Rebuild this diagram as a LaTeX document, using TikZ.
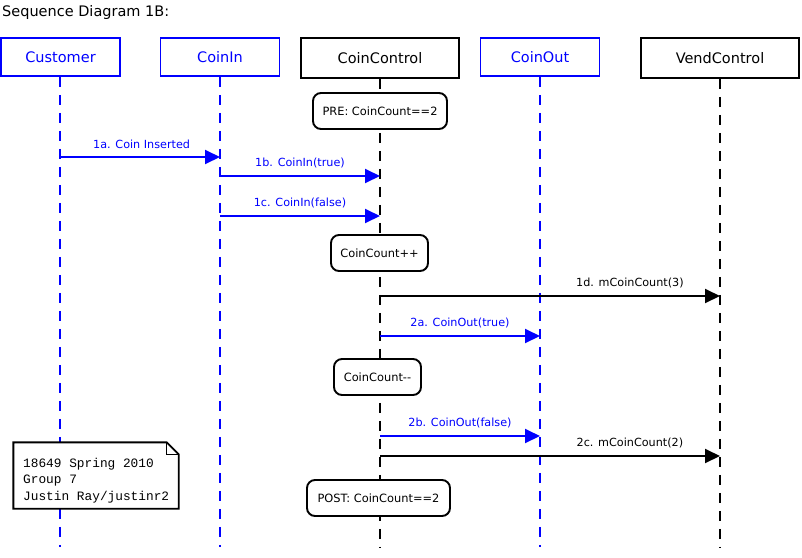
\documentclass[tikz,border=0pt]{standalone}
\usepackage{fontspec}
\setmainfont{DejaVu Sans}
\newfontfamily\notefont{Liberation Mono}
\usetikzlibrary{arrows.meta}
\newcommand{\hdrfont}{\fontsize{14.5pt}{17pt}\selectfont}
\newcommand{\msgfont}{\fontsize{11.2pt}{13pt}\selectfont}
\newcommand{\boxfont}{\fontsize{11.4pt}{13pt}\selectfont}
\newcommand{\ntfont}{\notefont\fontsize{12.8pt}{16.5pt}\selectfont}
\definecolor{sdblue}{RGB}{0,0,255}
\definecolor{sdblack}{RGB}{0,0,0}
\tikzset{
  headb/.style={draw=sdblue, text=sdblue, line width=1.9pt, fill=white, minimum width=119pt, minimum height=38pt, font=\hdrfont, inner sep=0pt},
  headk/.style={draw=sdblack, text=sdblack, line width=1.9pt, fill=white, minimum width=158pt, minimum height=40pt, font=\hdrfont, inner sep=0pt},
  lifeb/.style={draw=sdblue, line width=1.9pt, dash pattern=on 10pt off 8pt},
  lifek/.style={draw=sdblack, line width=1.9pt, dash pattern=on 10pt off 8pt},
  msgb/.style={draw=sdblue, line width=1.9pt, -{Triangle[length=15pt,width=14pt]}},
  msgk/.style={draw=sdblack, line width=1.9pt, -{Triangle[length=15pt,width=14pt]}},
  lblb/.style={text=sdblue, font=\msgfont, inner sep=0pt, yshift=13pt},
  lblk/.style={text=sdblack, font=\msgfont, inner sep=0pt, yshift=13pt},
  state/.style={draw=sdblack, line width=1.9pt, fill=white, rounded corners=8pt, minimum height=36pt, font=\boxfont, inner sep=0pt},
}
\begin{document}
\begin{tikzpicture}[x=1pt, y=-1pt]
\useasboundingbox (0,0) rectangle (802,557);
\fill[white] (0,0) rectangle (802,557);

\node[anchor=west, font=\hdrfont, inner sep=0pt] (title) at (2,12) {Sequence Diagram 1B:};

% heads
\node[headb] (h1) at (60.5,57) {Customer};
\node[headb] (h2) at (220,57) {CoinIn};
\node[headk] (h3) at (380,58) {CoinControl};
\node[headb] (h4) at (540,57) {CoinOut};
\node[headk] (h5) at (720,58) {VendControl};

% lifeline ends
\coordinate (e1) at (60,547);
\coordinate (e2) at (220,547);
\coordinate (e3) at (380,547);
\coordinate (e4) at (540,547);
\coordinate (e5) at (720,547);

\draw[lifeb] (h1.south -| e1) -- (e1);
\draw[lifeb] (h2.south -| e2) -- (e2);
\draw[lifek] (h3.south -| e3) -- (e3);
\draw[lifeb] (h4.south -| e4) -- (e4);
\draw[lifek] (h5.south -| e5) -- (e5);

% state boxes
\node[state, minimum width=134pt] (pre) at (380,111) {PRE: CoinCount==2};
\node[state, minimum width=97pt] (inc) at (379.5,253) {CoinCount++};
\node[state, minimum width=87pt] (dec) at (377.5,377) {CoinCount{-}{-}};
\node[state, minimum width=143pt] (post) at (378.5,498) {POST: CoinCount==2};

% message end points
\coordinate (m1a-s) at (60,157);  \coordinate (m1a-e) at (220,157);
\coordinate (m1b-s) at (220,176); \coordinate (m1b-e) at (380,176);
\coordinate (m1c-s) at (220,216); \coordinate (m1c-e) at (380,216);
\coordinate (m1d-s) at (380,296); \coordinate (m1d-e) at (720,296);
\coordinate (m2a-s) at (380,336); \coordinate (m2a-e) at (540,336);
\coordinate (m2b-s) at (380,436); \coordinate (m2b-e) at (540,436);
\coordinate (m2c-s) at (380,456); \coordinate (m2c-e) at (720,456);

\draw[msgb] (m1a-s) -- (m1a-e) node[lblb, pos=0.51] (l1a) {1a. Coin Inserted};
\draw[msgb] (m1b-s) -- (m1b-e) node[lblb, pos=0.5] (l1b) {1b. CoinIn(true)};
\draw[msgb] (m1c-s) -- (m1c-e) node[lblb, pos=0.5] (l1c) {1c. CoinIn(false)};
\draw[msgk] (m1d-s) -- (m1d-e) node[lblk, pos=0.735] (l1d) {1d. mCoinCount(3)};
\draw[msgb] (m2a-s) -- (m2a-e) node[lblb, pos=0.5] (l2a) {2a. CoinOut(true)};
\draw[msgb] (m2b-s) -- (m2b-e) node[lblb, pos=0.5] (l2b) {2b. CoinOut(false)};
\draw[msgk] (m2c-s) -- (m2c-e) node[lblk, pos=0.735] (l2c) {2c. mCoinCount(2)};

% note
\node[minimum width=165pt, minimum height=66pt, inner sep=0pt] (note) at (96,475.5) {};
\draw[line width=1.9pt, fill=white, line join=miter]
  (note.north west) -- ([xshift=-12pt]note.north east) -- ([yshift=-12pt]note.north east)
  -- (note.south east) -- (note.south west) -- cycle;
\draw[line width=1pt] ([xshift=-12pt]note.north east) |- ([yshift=-12pt]note.north east);
\node[anchor=west, align=left, font=\ntfont, inner sep=0pt] (notetxt) at (23,480.5)
  {18649 Spring 2010\\Group 7\\Justin Ray/justinr2};
\end{tikzpicture}
\end{document}
